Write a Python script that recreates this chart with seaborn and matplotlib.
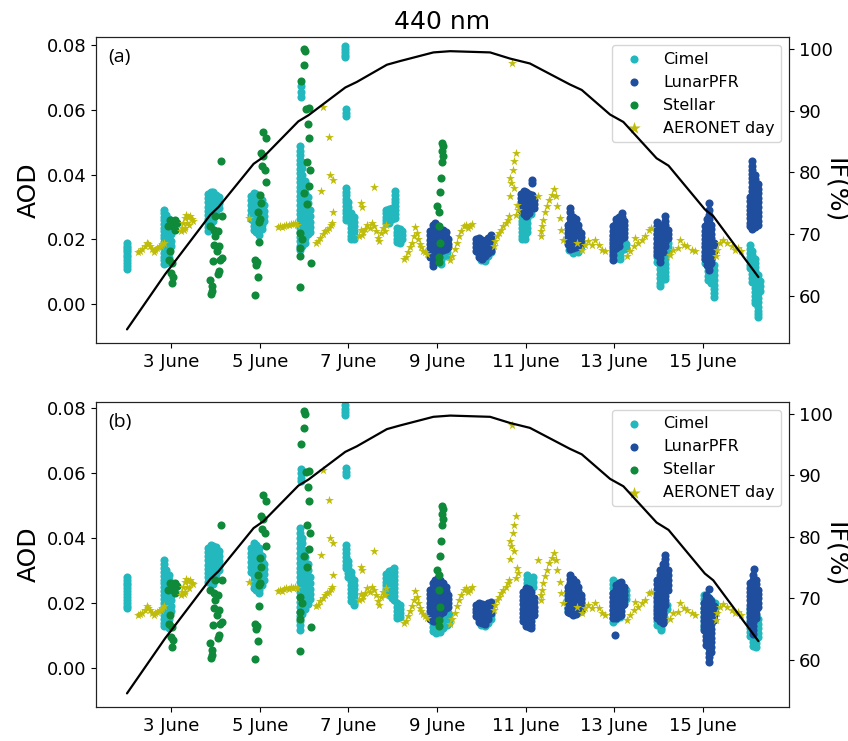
import matplotlib
matplotlib.use("Agg")
import matplotlib.pyplot as plt
import seaborn as sns
import pandas as pd

# ---- data (day of June, AOD) ----
# dense instrument blobs are given as columns: (day, [aod values])
cimel_a = [
    (2.01, [0.0188, 0.0181, 0.0174, 0.0166, 0.0160, 0.0152, 0.0145, 0.0137, 0.0128, 0.0118, 0.0108]),
    (2.84, [0.0292, 0.0281, 0.0270, 0.0259, 0.0248, 0.0236, 0.0225, 0.0214, 0.0203, 0.0191, 0.0180, 0.0169, 0.0157, 0.0146, 0.0135, 0.0124]),
    (2.89, [0.0276, 0.0262, 0.0249, 0.0235, 0.0221, 0.0207, 0.0193, 0.0180, 0.0166, 0.0152, 0.0139, 0.0127]),
    (2.94, [0.0262, 0.0247, 0.0232, 0.0217, 0.0201, 0.0186, 0.0171, 0.0157, 0.0143]),
    (2.99, [0.0235, 0.0215, 0.0196, 0.0178]),
    (3.83, [0.0340, 0.0327, 0.0314, 0.0301, 0.0288, 0.0275, 0.0262, 0.0249, 0.0237, 0.0226]),
    (3.89, [0.0347, 0.0333, 0.0319, 0.0305, 0.0291, 0.0277, 0.0263, 0.0249, 0.0236]),
    (3.95, [0.0345, 0.0330, 0.0315, 0.0300, 0.0285, 0.0270, 0.0256]),
    (4.01, [0.0338, 0.0322, 0.0306, 0.0290, 0.0275]),
    (4.07, [0.0330, 0.0312, 0.0296]),
    (4.80, [0.0335, 0.0320, 0.0305, 0.0290, 0.0275, 0.0262]),
    (4.86, [0.0344, 0.0329, 0.0314, 0.0299, 0.0284, 0.0269, 0.0255, 0.0241, 0.0228]),
    (4.92, [0.0340, 0.0325, 0.0310, 0.0295, 0.0280, 0.0265, 0.0250, 0.0236, 0.0222]),
    (4.98, [0.0332, 0.0316, 0.0300, 0.0285, 0.0270, 0.0255, 0.0240, 0.0226, 0.0214]),
    (5.04, [0.0322, 0.0305, 0.0290, 0.0275, 0.0260, 0.0245, 0.0232]),
    (5.10, [0.0305, 0.0288, 0.0272, 0.0257]),
    (5.93, [0.0673, 0.0655, 0.0640]),
    (5.90, [0.0488, 0.0474, 0.0460, 0.0446, 0.0432, 0.0418, 0.0404, 0.0390, 0.0376, 0.0362, 0.0348, 0.0334, 0.0320, 0.0306, 0.0292, 0.0278, 0.0264, 0.0250, 0.0236, 0.0222, 0.0208, 0.0194, 0.0180, 0.0166]),
    (5.96, [0.0440, 0.0420, 0.0400, 0.0380, 0.0362, 0.0345, 0.0330, 0.0315, 0.0300, 0.0285, 0.0270, 0.0255, 0.0240, 0.0225, 0.0210, 0.0195, 0.0180]),
    (6.03, [0.0380, 0.0360, 0.0342, 0.0325, 0.0310, 0.0295, 0.0280, 0.0265, 0.0250, 0.0235, 0.0220, 0.0205, 0.0190]),
    (6.09, [0.0330, 0.0312, 0.0295, 0.0278, 0.0262, 0.0246, 0.0230, 0.0215]),
    (6.14, [0.0290, 0.0272, 0.0255, 0.0238, 0.0222]),
    (6.93, [0.0797, 0.0788, 0.0779, 0.0770, 0.0762]),
    (6.94, [0.0602, 0.0591, 0.0580]),
    (6.95, [0.0358, 0.0347, 0.0336, 0.0325, 0.0314, 0.0303, 0.0292, 0.0281, 0.0270, 0.0260]),
    (7.00, [0.0315, 0.0300, 0.0288, 0.0276, 0.0265]),
    (7.06, [0.0282, 0.0270, 0.0258, 0.0246, 0.0234, 0.0222, 0.0210, 0.0200]),
    (7.12, [0.0268, 0.0254, 0.0240, 0.0226, 0.0212, 0.0202]),
    (7.86, [0.0290, 0.0280, 0.0270, 0.0260, 0.0252]),
    (7.92, [0.0295, 0.0284, 0.0272, 0.0262, 0.0252]),
    (7.98, [0.0298, 0.0286, 0.0274, 0.0262]),
    (8.05, [0.0349, 0.0338, 0.0326, 0.0314, 0.0302, 0.0290, 0.0278, 0.0266]),
    (8.09, [0.0235, 0.0224, 0.0213, 0.0202, 0.0192]),
    (8.16, [0.0232, 0.0220, 0.0208, 0.0196, 0.0189]),
    (8.22, [0.0225, 0.0212, 0.0200]),
    (8.92, [0.0200, 0.0185, 0.0170, 0.0155, 0.0140]),
    (9.10, [0.0165, 0.0150, 0.0136, 0.0125]),
    (9.22, [0.0190, 0.0175, 0.0160, 0.0148]),
    (10.00, [0.0165, 0.0155, 0.0145, 0.0136]),
    (10.08, [0.0160, 0.0150, 0.0140, 0.0132]),
    (10.16, [0.0168, 0.0158, 0.0148]),
    (10.23, [0.0170, 0.0160]),
    (10.92, [0.0270, 0.0258, 0.0246, 0.0234, 0.0222, 0.0210, 0.0200]),
    (10.98, [0.0285, 0.0270, 0.0255, 0.0240, 0.0226, 0.0213, 0.0202]),
    (11.04, [0.0280, 0.0265, 0.0250, 0.0236, 0.0222]),
    (11.12, [0.0302, 0.0290, 0.0278]),
    (11.98, [0.0199, 0.0188, 0.0178, 0.0168]),
    (12.08, [0.0192, 0.0180, 0.0168, 0.0158]),
    (12.18, [0.0195, 0.0183, 0.0171, 0.0160]),
    (12.26, [0.0190, 0.0178]),
    (12.98, [0.0209, 0.0196, 0.0183, 0.0170, 0.0157, 0.0145]),
    (13.06, [0.0205, 0.0192, 0.0180, 0.0167, 0.0155, 0.0142]),
    (13.14, [0.0200, 0.0188, 0.0175, 0.0162, 0.0150, 0.0138]),
    (13.22, [0.0195, 0.0182, 0.0170]),
    (13.28, [0.0185, 0.0172]),
    (13.98, [0.0230, 0.0215, 0.0200, 0.0186, 0.0172, 0.0158, 0.0144, 0.0130]),
    (14.04, [0.0150, 0.0136, 0.0122, 0.0108, 0.0094, 0.0080, 0.0066, 0.0055]),
    (14.09, [0.0210, 0.0195, 0.0180, 0.0165, 0.0150, 0.0135, 0.0120, 0.0106, 0.0092]),
    (14.15, [0.0200, 0.0185, 0.0170, 0.0155, 0.0140, 0.0125, 0.0112, 0.0100, 0.0088, 0.0079]),
    (14.21, [0.0190, 0.0175, 0.0160]),
    (15.05, [0.0178, 0.0165, 0.0152, 0.0140, 0.0128]),
    (15.12, [0.0172, 0.0158, 0.0144, 0.0130, 0.0116, 0.0102, 0.0088, 0.0074]),
    (15.18, [0.0150, 0.0136, 0.0122, 0.0108, 0.0094, 0.0080, 0.0066]),
    (15.25, [0.0120, 0.0105, 0.0090, 0.0075, 0.0060, 0.0046, 0.0034, 0.0023]),
    (16.06, [0.0183, 0.0170, 0.0158, 0.0146, 0.0134, 0.0122, 0.0110]),
    (16.12, [0.0165, 0.0152, 0.0140, 0.0128, 0.0116, 0.0104, 0.0092, 0.0080, 0.0068]),
    (16.18, [0.0140, 0.0127, 0.0114, 0.0101, 0.0088, 0.0075, 0.0062, 0.0050, 0.0038, 0.0026, 0.0014, 0.0002]),
    (16.24, [0.0090, 0.0076, 0.0062, 0.0048, 0.0034, 0.0020, 0.0006, -0.0008, -0.0020, -0.0032, -0.0039]),
    (16.29, [0.0070, 0.0055, 0.0040]),
]

lunar_a = [
    (8.84, [0.0225, 0.0212, 0.0199, 0.0186, 0.0173, 0.0160, 0.0147]),
    (8.90, [0.0245, 0.0232, 0.0219, 0.0206, 0.0193, 0.0180, 0.0167, 0.0154, 0.0141, 0.0128, 0.0117]),
    (8.96, [0.0250, 0.0237, 0.0224, 0.0211, 0.0198, 0.0185, 0.0172, 0.0159, 0.0146, 0.0133]),
    (9.02, [0.0240, 0.0226, 0.0212, 0.0198, 0.0185, 0.0172, 0.0160]),
    (9.08, [0.0225, 0.0212, 0.0200, 0.0188, 0.0176, 0.0164]),
    (9.14, [0.0228, 0.0215, 0.0202, 0.0190, 0.0178, 0.0166]),
    (9.20, [0.0222, 0.0208, 0.0195, 0.0182, 0.0170]),
    (9.26, [0.0200, 0.0187, 0.0175]),
    (9.89, [0.0200, 0.0188, 0.0176, 0.0164]),
    (9.95, [0.0205, 0.0192, 0.0180, 0.0168, 0.0156, 0.0145]),
    (10.02, [0.0198, 0.0186, 0.0174, 0.0162, 0.0150, 0.0140]),
    (10.09, [0.0195, 0.0183, 0.0171, 0.0159, 0.0148]),
    (10.16, [0.0205, 0.0192, 0.0180, 0.0168, 0.0157]),
    (10.22, [0.0214, 0.0200, 0.0187, 0.0175, 0.0165]),
    (10.90, [0.0340, 0.0328, 0.0316, 0.0304, 0.0292]),
    (10.96, [0.0350, 0.0338, 0.0326, 0.0314, 0.0302, 0.0290, 0.0278]),
    (11.02, [0.0345, 0.0333, 0.0321, 0.0309, 0.0297, 0.0285, 0.0273]),
    (11.08, [0.0340, 0.0328, 0.0316, 0.0304, 0.0292, 0.0282]),
    (11.14, [0.0384, 0.0374, 0.0336, 0.0324, 0.0312, 0.0300]),
    (11.20, [0.0320, 0.0308, 0.0296]),
    (11.95, [0.0245, 0.0232, 0.0220, 0.0208, 0.0196, 0.0185]),
    (12.01, [0.0297, 0.0284, 0.0265, 0.0252, 0.0240, 0.0228, 0.0216, 0.0204, 0.0192, 0.0180, 0.0170]),
    (12.07, [0.0270, 0.0257, 0.0244, 0.0231, 0.0218, 0.0206, 0.0194, 0.0182, 0.0172]),
    (12.13, [0.0262, 0.0249, 0.0236, 0.0223, 0.0210, 0.0198, 0.0186, 0.0175]),
    (12.19, [0.0245, 0.0232, 0.0219, 0.0206, 0.0194, 0.0182]),
    (12.25, [0.0220, 0.0207, 0.0195, 0.0183]),
    (12.98, [0.0240, 0.0227, 0.0214, 0.0201, 0.0188, 0.0176, 0.0164, 0.0152, 0.0137]),
    (13.04, [0.0262, 0.0249, 0.0236, 0.0223, 0.0210, 0.0197, 0.0185, 0.0173]),
    (13.10, [0.0270, 0.0257, 0.0244, 0.0231, 0.0218, 0.0205, 0.0193, 0.0181]),
    (13.17, [0.0281, 0.0268, 0.0255, 0.0242, 0.0229, 0.0216, 0.0204]),
    (13.23, [0.0258, 0.0245, 0.0232, 0.0219, 0.0207]),
    (13.98, [0.0255, 0.0242, 0.0229, 0.0216, 0.0203, 0.0190, 0.0177, 0.0164, 0.0151]),
    (14.04, [0.0245, 0.0232, 0.0219, 0.0206, 0.0193, 0.0180, 0.0167, 0.0155, 0.0143, 0.0130]),
    (14.10, [0.0240, 0.0227, 0.0214, 0.0201, 0.0188, 0.0175, 0.0162]),
    (14.16, [0.0271, 0.0258, 0.0245, 0.0232, 0.0219, 0.0206, 0.0193, 0.0180]),
    (14.22, [0.0230, 0.0217, 0.0204]),
    (15.05, [0.0240, 0.0227, 0.0214, 0.0201, 0.0188, 0.0175, 0.0162, 0.0150, 0.0138]),
    (15.10, [0.0262, 0.0248, 0.0235, 0.0222, 0.0209, 0.0196, 0.0183, 0.0170, 0.0158, 0.0146, 0.0134, 0.0122]),
    (15.14, [0.0312, 0.0290, 0.0276, 0.0262, 0.0249, 0.0236, 0.0223, 0.0210, 0.0197, 0.0184, 0.0171, 0.0158, 0.0145, 0.0132, 0.0118, 0.0105]),
    (15.20, [0.0245, 0.0231, 0.0218, 0.0205, 0.0192, 0.0179, 0.0166, 0.0153, 0.0140, 0.0128]),
    (15.26, [0.0190, 0.0176, 0.0163]),
    (16.06, [0.0330, 0.0317, 0.0304, 0.0291, 0.0278, 0.0265, 0.0252, 0.0240]),
    (16.12, [0.0441, 0.0428, 0.0415, 0.0402, 0.0389, 0.0376, 0.0363, 0.0350, 0.0337, 0.0324, 0.0311, 0.0298, 0.0285, 0.0272, 0.0259, 0.0246, 0.0232]),
    (16.18, [0.0400, 0.0386, 0.0372, 0.0358, 0.0344, 0.0330, 0.0316, 0.0302, 0.0289, 0.0276, 0.0263, 0.0250, 0.0238]),
    (16.24, [0.0370, 0.0356, 0.0342, 0.0328, 0.0314, 0.0300, 0.0286, 0.0272, 0.0258, 0.0244]),
]

cimel_b = [
    (2.01, [0.0281, 0.0272, 0.0263, 0.0254, 0.0245, 0.0236, 0.0227, 0.0218, 0.0209, 0.0200, 0.0192, 0.0184]),
    (2.84, [0.0332, 0.0320, 0.0308, 0.0296, 0.0284, 0.0272, 0.0260, 0.0248, 0.0236, 0.0224, 0.0212, 0.0200, 0.0188, 0.0176, 0.0164, 0.0152, 0.0140, 0.0128]),
    (2.89, [0.0300, 0.0287, 0.0274, 0.0261, 0.0248, 0.0235, 0.0222, 0.0209, 0.0196, 0.0183, 0.0170, 0.0157, 0.0144, 0.0132]),
    (2.94, [0.0285, 0.0270, 0.0255, 0.0240, 0.0225, 0.0210, 0.0195, 0.0180, 0.0165, 0.0150, 0.0137, 0.0122]),
    (3.00, [0.0260, 0.0242, 0.0225, 0.0208, 0.0192, 0.0176]),
    (3.83, [0.0370, 0.0357, 0.0344, 0.0331, 0.0318, 0.0305, 0.0292, 0.0279, 0.0266]),
    (3.89, [0.0378, 0.0365, 0.0352, 0.0339, 0.0326, 0.0313, 0.0300, 0.0287, 0.0274, 0.0262]),
    (3.95, [0.0376, 0.0363, 0.0350, 0.0337, 0.0324, 0.0311, 0.0298, 0.0285, 0.0272, 0.0258]),
    (4.01, [0.0372, 0.0358, 0.0344, 0.0330, 0.0316, 0.0302, 0.0288, 0.0275]),
    (4.07, [0.0360, 0.0345, 0.0330, 0.0315, 0.0300]),
    (4.80, [0.0370, 0.0355, 0.0340, 0.0325, 0.0310, 0.0296]),
    (4.86, [0.0383, 0.0369, 0.0355, 0.0341, 0.0327, 0.0313, 0.0299, 0.0285, 0.0271, 0.0258, 0.0245]),
    (4.92, [0.0378, 0.0364, 0.0350, 0.0336, 0.0322, 0.0308, 0.0294, 0.0280, 0.0266, 0.0252, 0.0240]),
    (4.98, [0.0370, 0.0355, 0.0340, 0.0325, 0.0310, 0.0295, 0.0280, 0.0266, 0.0252, 0.0240, 0.0230]),
    (5.04, [0.0345, 0.0330, 0.0315, 0.0300, 0.0285, 0.0270, 0.0256]),
    (5.10, [0.0320, 0.0304, 0.0288, 0.0272]),
    (5.93, [0.0610, 0.0598, 0.0584, 0.0574]),
    (5.90, [0.0429, 0.0414, 0.0399, 0.0384, 0.0369, 0.0354, 0.0339, 0.0324, 0.0309, 0.0294, 0.0279, 0.0264, 0.0249, 0.0234, 0.0219, 0.0204, 0.0189, 0.0174, 0.0160, 0.0146, 0.0132, 0.0118]),
    (5.96, [0.0400, 0.0383, 0.0366, 0.0349, 0.0332, 0.0315, 0.0298, 0.0281, 0.0264, 0.0247, 0.0230, 0.0213, 0.0196, 0.0180, 0.0165]),
    (6.02, [0.0360, 0.0342, 0.0324, 0.0306, 0.0288, 0.0270, 0.0252, 0.0234, 0.0216, 0.0198, 0.0182]),
    (6.08, [0.0320, 0.0302, 0.0284, 0.0266, 0.0248, 0.0230, 0.0212, 0.0196]),
    (6.14, [0.0280, 0.0262, 0.0244, 0.0228, 0.0212]),
    (6.93, [0.0807, 0.0797, 0.0787, 0.0777]),
    (6.95, [0.0613, 0.0603, 0.0593]),
    (6.94, [0.0378, 0.0366, 0.0354, 0.0342, 0.0330, 0.0318, 0.0306]),
    (6.99, [0.0330, 0.0317, 0.0304, 0.0291, 0.0280]),
    (7.05, [0.0295, 0.0282, 0.0269, 0.0256, 0.0243, 0.0230, 0.0218, 0.0206]),
    (7.12, [0.0270, 0.0256, 0.0242, 0.0228, 0.0214, 0.0200, 0.0194]),
    (7.86, [0.0290, 0.0278, 0.0266, 0.0254, 0.0242, 0.0230]),
    (7.92, [0.0298, 0.0286, 0.0274, 0.0262, 0.0250, 0.0238, 0.0226]),
    (7.98, [0.0300, 0.0288, 0.0276, 0.0264, 0.0252, 0.0240, 0.0228, 0.0216]),
    (8.04, [0.0306, 0.0294, 0.0282, 0.0270, 0.0258, 0.0246, 0.0234, 0.0222, 0.0210]),
    (8.10, [0.0200, 0.0188, 0.0176, 0.0164, 0.0153]),
    (8.17, [0.0194, 0.0182, 0.0170, 0.0158]),
    (8.90, [0.0150, 0.0138, 0.0126, 0.0115]),
    (8.98, [0.0140, 0.0128, 0.0116, 0.0107]),
    (9.06, [0.0150, 0.0136, 0.0124, 0.0112]),
    (9.14, [0.0160, 0.0146, 0.0134, 0.0122]),
    (9.22, [0.0175, 0.0160, 0.0146, 0.0133]),
    (9.28, [0.0165, 0.0150, 0.0138]),
    (10.00, [0.0163, 0.0153, 0.0143, 0.0134]),
    (10.08, [0.0158, 0.0148, 0.0138, 0.0129]),
    (10.16, [0.0160, 0.0150, 0.0140]),
    (10.23, [0.0163, 0.0152]),
    (11.03, [0.0286, 0.0274, 0.0262, 0.0250, 0.0238, 0.0226]),
    (11.10, [0.0275, 0.0262, 0.0249, 0.0236]),
    (11.17, [0.0280, 0.0265, 0.0250]),
    (11.96, [0.0235, 0.0222, 0.0210, 0.0198, 0.0186, 0.0175]),
    (12.05, [0.0225, 0.0212, 0.0200, 0.0188, 0.0176]),
    (12.15, [0.0220, 0.0207, 0.0195, 0.0183, 0.0174]),
    (12.25, [0.0215, 0.0202, 0.0190]),
    (12.97, [0.0271, 0.0258, 0.0245, 0.0232, 0.0219, 0.0206, 0.0193, 0.0180, 0.0167, 0.0155, 0.0143]),
    (13.05, [0.0260, 0.0246, 0.0232, 0.0218, 0.0204, 0.0190, 0.0176, 0.0162, 0.0150]),
    (13.13, [0.0255, 0.0241, 0.0227, 0.0213, 0.0199, 0.0185, 0.0171, 0.0158]),
    (13.21, [0.0250, 0.0236, 0.0222, 0.0208, 0.0194]),
    (13.27, [0.0240, 0.0226, 0.0212]),
    (13.98, [0.0214, 0.0200, 0.0186, 0.0172, 0.0158, 0.0145, 0.0132]),
    (14.05, [0.0205, 0.0191, 0.0177, 0.0163, 0.0150, 0.0137, 0.0124, 0.0117]),
    (14.12, [0.0200, 0.0186, 0.0172, 0.0158, 0.0145]),
    (14.20, [0.0195, 0.0182]),
    (15.04, [0.0225, 0.0212, 0.0199, 0.0186, 0.0173, 0.0160, 0.0148, 0.0136, 0.0124]),
    (15.12, [0.0218, 0.0204, 0.0190, 0.0176, 0.0162, 0.0148, 0.0134]),
    (15.20, [0.0210, 0.0196, 0.0182, 0.0168, 0.0155, 0.0142]),
    (15.28, [0.0200, 0.0186, 0.0172]),
    (16.08, [0.0184, 0.0172, 0.0160, 0.0148, 0.0136, 0.0124, 0.0112, 0.0100]),
    (16.14, [0.0170, 0.0157, 0.0144, 0.0131, 0.0118, 0.0105, 0.0092, 0.0080, 0.0068]),
    (16.20, [0.0160, 0.0146, 0.0132, 0.0118, 0.0104, 0.0090, 0.0078, 0.0066]),
    (16.26, [0.0150, 0.0136, 0.0122, 0.0108, 0.0095]),
]

lunar_b = [
    (8.84, [0.0240, 0.0227, 0.0214, 0.0201, 0.0188, 0.0175, 0.0162, 0.0150]),
    (8.90, [0.0260, 0.0247, 0.0234, 0.0221, 0.0208, 0.0195, 0.0182, 0.0169, 0.0156, 0.0144]),
    (8.96, [0.0272, 0.0259, 0.0246, 0.0233, 0.0220, 0.0207, 0.0194, 0.0181, 0.0168, 0.0156, 0.0144]),
    (9.02, [0.0276, 0.0263, 0.0250, 0.0237, 0.0224, 0.0211, 0.0198, 0.0185, 0.0172, 0.0160]),
    (9.08, [0.0270, 0.0257, 0.0244, 0.0231, 0.0218, 0.0205, 0.0192, 0.0179, 0.0167]),
    (9.14, [0.0262, 0.0249, 0.0236, 0.0223, 0.0210, 0.0197, 0.0184, 0.0172]),
    (9.20, [0.0250, 0.0237, 0.0224, 0.0211, 0.0198, 0.0186]),
    (9.26, [0.0225, 0.0212, 0.0199, 0.0187]),
    (9.89, [0.0195, 0.0183, 0.0171, 0.0160]),
    (9.95, [0.0200, 0.0188, 0.0176, 0.0164, 0.0152, 0.0142]),
    (10.02, [0.0198, 0.0186, 0.0174, 0.0162, 0.0150, 0.0138]),
    (10.09, [0.0195, 0.0183, 0.0171, 0.0159, 0.0147, 0.0136]),
    (10.16, [0.0200, 0.0188, 0.0176, 0.0164, 0.0152]),
    (10.22, [0.0204, 0.0192, 0.0180, 0.0168]),
    (10.95, [0.0235, 0.0222, 0.0209, 0.0196, 0.0183, 0.0170, 0.0158, 0.0146]),
    (11.01, [0.0245, 0.0232, 0.0219, 0.0206, 0.0193, 0.0180, 0.0167, 0.0154, 0.0142, 0.0130]),
    (11.07, [0.0242, 0.0229, 0.0216, 0.0203, 0.0190, 0.0177, 0.0164, 0.0151, 0.0139, 0.0127]),
    (11.13, [0.0235, 0.0222, 0.0209, 0.0196, 0.0183, 0.0170, 0.0157, 0.0145, 0.0133, 0.0123]),
    (11.19, [0.0215, 0.0202, 0.0189, 0.0176, 0.0163]),
    (11.95, [0.0250, 0.0237, 0.0224, 0.0211, 0.0198, 0.0186, 0.0174]),
    (12.01, [0.0286, 0.0273, 0.0260, 0.0247, 0.0234, 0.0221, 0.0208, 0.0195, 0.0182, 0.0170]),
    (12.07, [0.0275, 0.0262, 0.0249, 0.0236, 0.0223, 0.0210, 0.0197, 0.0184, 0.0172, 0.0163]),
    (12.13, [0.0265, 0.0252, 0.0239, 0.0226, 0.0213, 0.0200, 0.0187, 0.0175, 0.0165]),
    (12.19, [0.0250, 0.0237, 0.0224, 0.0211, 0.0198, 0.0186, 0.0174]),
    (12.25, [0.0225, 0.0212, 0.0199, 0.0187, 0.0176]),
    (12.98, [0.0230, 0.0217, 0.0204, 0.0191, 0.0178, 0.0166, 0.0154]),
    (13.01, [0.0102]),
    (13.04, [0.0255, 0.0242, 0.0229, 0.0216, 0.0203, 0.0190, 0.0177, 0.0165, 0.0153]),
    (13.10, [0.0262, 0.0249, 0.0236, 0.0223, 0.0210, 0.0197, 0.0184, 0.0171, 0.0159]),
    (13.16, [0.0266, 0.0253, 0.0240, 0.0227, 0.0214, 0.0201, 0.0188, 0.0175, 0.0163]),
    (13.22, [0.0250, 0.0237, 0.0224, 0.0211, 0.0198]),
    (13.98, [0.0270, 0.0257, 0.0244, 0.0231, 0.0218, 0.0205, 0.0192, 0.0179, 0.0166, 0.0153]),
    (14.04, [0.0300, 0.0287, 0.0274, 0.0261, 0.0248, 0.0235, 0.0222, 0.0209, 0.0196, 0.0183, 0.0170, 0.0157, 0.0145]),
    (14.10, [0.0320, 0.0306, 0.0292, 0.0278, 0.0264, 0.0250, 0.0236, 0.0222, 0.0208, 0.0194, 0.0180, 0.0166, 0.0152, 0.0140]),
    (14.16, [0.0347, 0.0334, 0.0320, 0.0306, 0.0292, 0.0278, 0.0264, 0.0250, 0.0236, 0.0222, 0.0208, 0.0194]),
    (14.22, [0.0300, 0.0285, 0.0270, 0.0255, 0.0240]),
    (15.02, [0.0200, 0.0186, 0.0172, 0.0158, 0.0144, 0.0130, 0.0116]),
    (15.08, [0.0225, 0.0211, 0.0197, 0.0183, 0.0169, 0.0155, 0.0141, 0.0127, 0.0113, 0.0099, 0.0085, 0.0071]),
    (15.14, [0.0243, 0.0215, 0.0201, 0.0187, 0.0173, 0.0159, 0.0145, 0.0131, 0.0117, 0.0103, 0.0089, 0.0075, 0.0061, 0.0047, 0.0033, 0.0020]),
    (15.20, [0.0205, 0.0191, 0.0177, 0.0163, 0.0149, 0.0135, 0.0121, 0.0107, 0.0093, 0.0079, 0.0065, 0.0051]),
    (15.26, [0.0190, 0.0176, 0.0162, 0.0148]),
    (16.07, [0.0260, 0.0247, 0.0234, 0.0221, 0.0208, 0.0195, 0.0182, 0.0169, 0.0156, 0.0143]),
    (16.13, [0.0285, 0.0272, 0.0259, 0.0246, 0.0233, 0.0220, 0.0207, 0.0194, 0.0181, 0.0168, 0.0155, 0.0142, 0.0129, 0.0116, 0.0104]),
    (16.17, [0.0303]),
    (16.20, [0.0270, 0.0257, 0.0244, 0.0231, 0.0218, 0.0205, 0.0192, 0.0179, 0.0166, 0.0153]),
    (16.26, [0.0240, 0.0227, 0.0214, 0.0201, 0.0188]),
]

# stellar and AERONET day points are the same in both panels
stellar = [
    (2.98, 0.0261), (3.09, 0.0261), (3.03, 0.0240), (3.09, 0.0230), (3.12, 0.0252),
    (2.93, 0.0240), (3.06, 0.0240), (2.98, 0.0163), (2.96, 0.0137), (3.01, 0.0127),
    (2.99, 0.0096), (3.04, 0.0085), (3.02, 0.0065),
    (4.13, 0.0441), (3.99, 0.0271), (4.14, 0.0271), (3.88, 0.0240), (3.97, 0.0230),
    (4.05, 0.0225), (3.99, 0.0209), (3.97, 0.0184), (4.07, 0.0178), (4.03, 0.0163),
    (4.14, 0.0142), (3.95, 0.0132), (4.11, 0.0137), (4.07, 0.0102), (4.05, 0.0092),
    (3.88, 0.0076), (3.92, 0.0055), (3.90, 0.0030), (3.93, 0.0040),
    (5.08, 0.0531), (5.14, 0.0513), (5.03, 0.0467), (5.07, 0.0457), (5.05, 0.0428),
    (5.12, 0.0415), (5.145, 0.0376), (4.995, 0.0338), (5.02, 0.0312), (4.96, 0.0286),
    (4.97, 0.0255), (4.995, 0.0262), (4.97, 0.0191), (4.896, 0.0135), (4.934, 0.0129),
    (4.91, 0.0121), (4.95, 0.0083), (4.896, 0.0029),
    (6.00, 0.0789), (6.03, 0.0781), (6.00, 0.0737), (5.935, 0.0689), (6.04, 0.0603),
    (6.115, 0.0606), (6.08, 0.0555), (6.12, 0.0513), (6.06, 0.0438), (6.14, 0.0415),
    (6.10, 0.0366), (6.00, 0.0343), (6.06, 0.0310), (5.91, 0.0220), (5.95, 0.0201),
    (5.91, 0.0173), (5.897, 0.0150), (6.15, 0.0127), (5.91, 0.0054),
    (9.11, 0.0498), (9.133, 0.0488), (9.11, 0.0472), (9.147, 0.0457), (9.11, 0.0438),
    (9.087, 0.0390), (9.072, 0.0345), (9.012, 0.0302), (9.057, 0.0286), (9.035, 0.0240),
    (9.072, 0.0189), (9.035, 0.0147), (9.035, 0.0129),
]

aeronet = [
    (2.25, 0.0162), (2.30, 0.0165), (2.35, 0.0170), (2.40, 0.0178), (2.45, 0.0190),
    (2.48, 0.0185), (2.52, 0.0178), (2.56, 0.0170), (2.60, 0.0162), (2.64, 0.0168),
    (2.68, 0.0172), (2.72, 0.0175), (2.76, 0.0180), (2.80, 0.0185), (2.84, 0.0190),
    (3.21, 0.0225), (3.24, 0.0235), (3.27, 0.0250), (3.30, 0.0265), (3.34, 0.0275),
    (3.38, 0.0268), (3.42, 0.0272), (3.46, 0.0262), (3.50, 0.0258), (3.30, 0.0235),
    (3.36, 0.0250), (3.40, 0.0245), (3.28, 0.0228),
    (4.75, 0.0266),
    (5.40, 0.0238), (5.45, 0.0240), (5.50, 0.0237), (5.55, 0.0242), (5.60, 0.0245),
    (5.65, 0.0243), (5.70, 0.0248), (5.75, 0.0246), (5.80, 0.0250), (5.85, 0.0245),
    (6.27, 0.0190), (6.32, 0.0195), (6.36, 0.0205), (6.42, 0.0215), (6.48, 0.0225),
    (6.52, 0.0230), (6.56, 0.0235), (6.60, 0.0243), (6.64, 0.0250),
    (6.42, 0.0609), (6.57, 0.0516), (6.59, 0.0400), (6.66, 0.0384), (6.38, 0.0348),
    (6.65, 0.0286), (7.29, 0.0312), (7.30, 0.0300), (7.57, 0.0361), (7.28, 0.0228),
    (7.30, 0.0212),
    (7.25, 0.0210), (7.34, 0.0222), (7.38, 0.0232), (7.42, 0.0245), (7.48, 0.0235),
    (7.53, 0.0250), (7.58, 0.0240), (7.62, 0.0225), (7.66, 0.0205), (7.70, 0.0195),
    (7.74, 0.0220), (7.78, 0.0235), (7.82, 0.0225), (7.86, 0.0245),
    (8.25, 0.0140), (8.30, 0.0145), (8.35, 0.0160), (8.40, 0.0175), (8.44, 0.0190),
    (8.48, 0.0210), (8.51, 0.0238), (8.54, 0.0220), (8.57, 0.0200), (8.61, 0.0185),
    (8.65, 0.0175), (8.69, 0.0165), (8.73, 0.0160), (8.77, 0.0155),
    (9.30, 0.0135), (9.35, 0.0150), (9.40, 0.0170), (9.45, 0.0190), (9.50, 0.0210),
    (9.55, 0.0225), (9.60, 0.0240), (9.65, 0.0245), (9.70, 0.0235), (9.75, 0.0240),
    (9.80, 0.0248),
    (10.28, 0.0180), (10.32, 0.0195), (10.36, 0.0210), (10.40, 0.0220), (10.45, 0.0230),
    (10.50, 0.0240), (10.55, 0.0250), (10.60, 0.0260), (10.63, 0.0272),
    (10.78, 0.0467), (10.73, 0.0441), (10.71, 0.0415), (10.65, 0.0390), (10.67, 0.0374),
    (10.73, 0.0359), (10.64, 0.0335), (10.80, 0.0307), (10.82, 0.0292), (10.79, 0.0276),
    (10.69, 0.0746), (11.29, 0.0333),
    (11.37, 0.0240), (11.40, 0.0261), (11.44, 0.0283), (11.48, 0.0302), (11.54, 0.0323),
    (11.59, 0.0338), (11.65, 0.0354), (11.69, 0.0333), (11.72, 0.0302), (11.77, 0.0266),
    (11.80, 0.0230), (11.84, 0.0199), (11.34, 0.0225), (11.36, 0.0210),
    (12.16, 0.0189), (12.27, 0.0168), (12.35, 0.0184), (12.42, 0.0194), (12.50, 0.0184),
    (12.57, 0.0199), (12.65, 0.0184), (12.72, 0.0168), (12.80, 0.0163),
    (13.29, 0.0148), (13.36, 0.0163), (13.44, 0.0178), (13.47, 0.0204), (13.55, 0.0189),
    (13.62, 0.0199), (13.70, 0.0209), (13.78, 0.0230), (13.83, 0.0235),
    (14.50, 0.0199), (14.26, 0.0152), (14.34, 0.0168), (14.45, 0.0173), (14.57, 0.0184),
    (14.64, 0.0178), (14.75, 0.0168), (14.83, 0.0163),
    (15.30, 0.0148), (15.33, 0.0168), (15.39, 0.0189), (15.47, 0.0197), (15.56, 0.0189),
    (15.66, 0.0178), (15.73, 0.0168), (15.81, 0.0173), (15.86, 0.0163),
]

# illuminated fraction of the moon (right axis)
if_day = [2.00, 2.865, 3.015, 3.88, 4.07, 4.86, 5.08, 5.87, 6.10, 6.93, 7.19, 7.87, 8.17,
          8.92, 9.30, 10.20, 10.65, 11.10, 12.00, 12.27, 12.91, 13.21, 13.96, 14.23,
          15.05, 15.24, 16.26]
if_pct = [54.5, 63.5, 64.9, 73.1, 74.4, 81.4, 82.5, 88.3, 89.3, 93.8, 94.7, 97.5, 98.1,
          99.5, 99.7, 99.5, 98.5, 97.7, 94.3, 93.4, 89.4, 88.2, 82.3, 81.1,
          74.0, 72.9, 63.0]

tick_days = [3, 5, 7, 9, 11, 13, 15]
tick_labels = ["3 June", "5 June", "7 June", "9 June", "11 June", "13 June", "15 June"]

colors = {"Cimel": "#22b8bd", "LunarPFR": "#1f4e9e", "Stellar": "#0f8a3a",
          "AERONET day": "#c0bd0a"}


def columns_to_df(cols):
    rows = [(d, v) for d, vals in cols for v in vals]
    return pd.DataFrame(rows, columns=["day", "aod"])


def pairs_to_df(pairs):
    return pd.DataFrame(pairs, columns=["day", "aod"])


sns.set_style("ticks")
plt.rcParams["font.family"] = ["DejaVu Sans"]
plt.rcParams["text.color"] = "black"
plt.rcParams["axes.labelcolor"] = "black"
plt.rcParams["xtick.color"] = "black"
plt.rcParams["ytick.color"] = "black"
plt.rcParams["axes.edgecolor"] = "#222222"

fig = plt.figure(figsize=(8.48, 7.41), dpi=100)
ax_a = fig.add_axes([0.1132, 0.5367, 0.8172, 0.4130])
ax_b = fig.add_axes([0.1132, 0.0455, 0.8172, 0.4124])

panels = [
    (ax_a, cimel_a, lunar_a, "(a)", (-0.0121, 0.0824)),
    (ax_b, cimel_b, lunar_b, "(b)", (-0.0120, 0.0818)),
]

for ax, cim, lun, tag, ylim in panels:
    sns.scatterplot(data=columns_to_df(cim), x="day", y="aod", ax=ax, color=colors["Cimel"],
                    s=34, linewidth=0, label="Cimel")
    sns.scatterplot(data=columns_to_df(lun), x="day", y="aod", ax=ax, color=colors["LunarPFR"],
                    s=34, linewidth=0, label="LunarPFR")
    sns.scatterplot(data=pairs_to_df(stellar), x="day", y="aod", ax=ax, color=colors["Stellar"],
                    s=34, linewidth=0, label="Stellar")
    sns.scatterplot(data=pairs_to_df(aeronet), x="day", y="aod", ax=ax,
                    color=colors["AERONET day"], marker="*", s=45, linewidth=0,
                    label="AERONET day")
    ax.set_xlim(1.30, 16.95)
    ax.set_ylim(*ylim)
    ax.set_yticks([0.0, 0.02, 0.04, 0.06, 0.08])
    ax.set_yticklabels(["0.00", "0.02", "0.04", "0.06", "0.08"])
    ax.set_xticks(tick_days)
    ax.set_xticklabels(tick_labels)
    ax.tick_params(axis="y", labelsize=13)
    ax.tick_params(axis="x", labelsize=13)
    ax.set_xlabel("")
    ax.set_ylabel("AOD", fontsize=18)
    ax.text(0.018, 0.935, tag, transform=ax.transAxes, fontsize=14, va="center",
            ha="left", family=["Open Sans", "DejaVu Sans"])
    leg = ax.legend(loc="upper right", fontsize=11.5, framealpha=0.8)
    leg.legend_handles[3].set_sizes([90])

    ax2 = ax.twinx()
    sns.lineplot(x=if_day, y=if_pct, ax=ax2, color="black", linewidth=1.6, sort=False)
    ax2.set_yticks([60, 70, 80, 90, 100])
    ax2.tick_params(axis="y", labelsize=13)
    ax2.set_ylabel("IF(%)", fontsize=18, rotation=270, va="bottom", labelpad=-7)

ax_a.set_title("440 nm", fontsize=18)

fig.savefig("out.png", dpi=100)
